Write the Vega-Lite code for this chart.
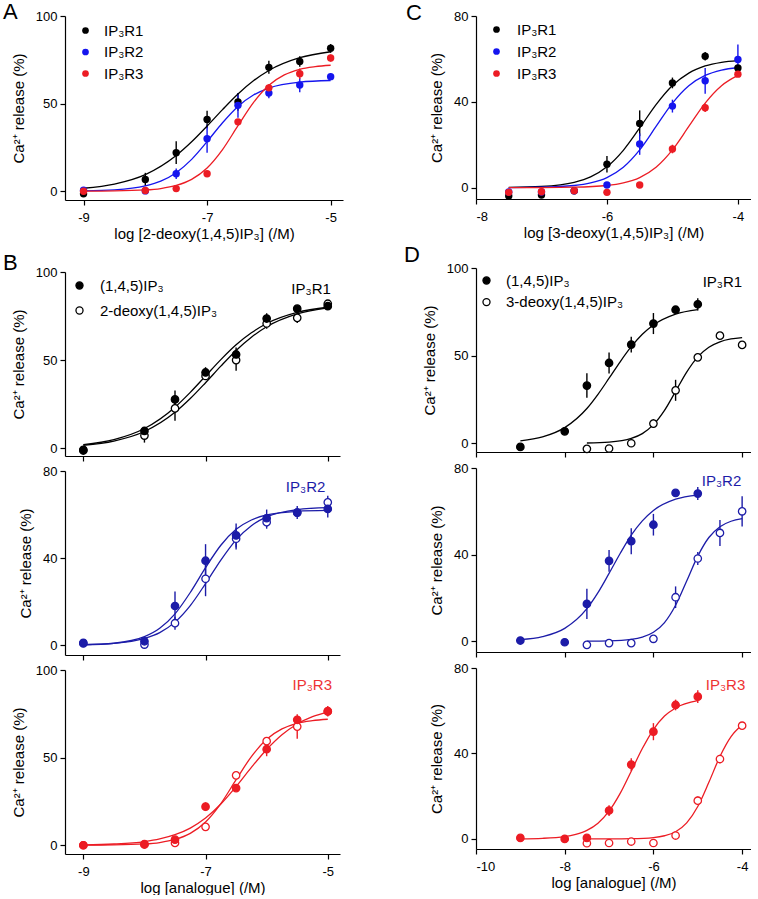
{
"$schema": "https://vega.github.io/schema/vega-lite/v6.json",
"padding": {"left": 3, "top": 1, "right": 0, "bottom": 0},
"background": "white",
"datasets": {
"pts": [
{"p":"A","s":"IP₃R1","x":-9,"y":-1.5,"lo":-1.5,"hi":-1.5},
{"p":"A","s":"IP₃R1","x":-8,"y":6.7,"lo":3,"hi":10.5},
{"p":"A","s":"IP₃R1","x":-7.5,"y":22,"lo":15.5,"hi":28.5},
{"p":"A","s":"IP₃R1","x":-7,"y":41,"lo":36,"hi":46},
{"p":"A","s":"IP₃R1","x":-6.5,"y":51,"lo":46,"hi":56},
{"p":"A","s":"IP₃R1","x":-6,"y":70.7,"lo":67,"hi":74.5},
{"p":"A","s":"IP₃R1","x":-5.5,"y":74,"lo":71,"hi":77},
{"p":"A","s":"IP₃R1","x":-5,"y":81.6,"lo":79,"hi":84},
{"p":"A","s":"IP₃R2","x":-9,"y":0.6,"lo":0.6,"hi":0.6},
{"p":"A","s":"IP₃R2","x":-8,"y":0.2,"lo":0.2,"hi":0.2},
{"p":"A","s":"IP₃R2","x":-7.5,"y":10,"lo":7,"hi":13},
{"p":"A","s":"IP₃R2","x":-7,"y":30,"lo":22,"hi":38},
{"p":"A","s":"IP₃R2","x":-6.5,"y":49,"lo":42,"hi":56},
{"p":"A","s":"IP₃R2","x":-6,"y":56,"lo":53,"hi":59},
{"p":"A","s":"IP₃R2","x":-5.5,"y":60.6,"lo":56.5,"hi":64.5},
{"p":"A","s":"IP₃R2","x":-5,"y":65.4,"lo":63.5,"hi":67.3},
{"p":"A","s":"IP₃R3","x":-9,"y":0,"lo":0,"hi":0},
{"p":"A","s":"IP₃R3","x":-8,"y":0.4,"lo":0.4,"hi":0.4},
{"p":"A","s":"IP₃R3","x":-7.5,"y":1.5,"lo":1.5,"hi":1.5},
{"p":"A","s":"IP₃R3","x":-7,"y":10,"lo":9,"hi":11},
{"p":"A","s":"IP₃R3","x":-6.5,"y":39.6,"lo":38,"hi":41},
{"p":"A","s":"IP₃R3","x":-6,"y":59,"lo":57,"hi":61},
{"p":"A","s":"IP₃R3","x":-5.5,"y":67,"lo":64,"hi":70},
{"p":"A","s":"IP₃R3","x":-5,"y":76,"lo":74,"hi":78},

{"p":"B1","s":"2-deoxy(1,4,5)IP₃","x":-9,"y":-1.3,"lo":-1.3,"hi":-1.3},
{"p":"B1","s":"2-deoxy(1,4,5)IP₃","x":-8,"y":7.2,"lo":3.2,"hi":11.2},
{"p":"B1","s":"2-deoxy(1,4,5)IP₃","x":-7.5,"y":22.6,"lo":15.6,"hi":29.6},
{"p":"B1","s":"2-deoxy(1,4,5)IP₃","x":-7,"y":41,"lo":39,"hi":43},
{"p":"B1","s":"2-deoxy(1,4,5)IP₃","x":-6.5,"y":50,"lo":44,"hi":56},
{"p":"B1","s":"2-deoxy(1,4,5)IP₃","x":-6,"y":70.8,"lo":67.8,"hi":73.8},
{"p":"B1","s":"2-deoxy(1,4,5)IP₃","x":-5.5,"y":74,"lo":71,"hi":77},
{"p":"B1","s":"2-deoxy(1,4,5)IP₃","x":-5,"y":82,"lo":81,"hi":83},
{"p":"B1","s":"(1,4,5)IP₃","x":-9,"y":-0.9,"lo":-0.9,"hi":-0.9},
{"p":"B1","s":"(1,4,5)IP₃","x":-8,"y":9.8,"lo":9.8,"hi":9.8},
{"p":"B1","s":"(1,4,5)IP₃","x":-7.5,"y":27.7,"lo":22.7,"hi":32.7},
{"p":"B1","s":"(1,4,5)IP₃","x":-7,"y":43,"lo":40,"hi":46},
{"p":"B1","s":"(1,4,5)IP₃","x":-6.5,"y":53.2,"lo":49.2,"hi":57.2},
{"p":"B1","s":"(1,4,5)IP₃","x":-6,"y":73.6,"lo":70.6,"hi":76.6},
{"p":"B1","s":"(1,4,5)IP₃","x":-5.5,"y":79.2,"lo":79.2,"hi":79.2},
{"p":"B1","s":"(1,4,5)IP₃","x":-5,"y":80.6,"lo":78.6,"hi":82.6},

{"p":"B2","s":"2-deoxy(1,4,5)IP₃","x":-9,"y":0.8,"lo":0.8,"hi":0.8},
{"p":"B2","s":"2-deoxy(1,4,5)IP₃","x":-8,"y":0.3,"lo":0.3,"hi":0.3},
{"p":"B2","s":"2-deoxy(1,4,5)IP₃","x":-7.5,"y":10.1,"lo":7.1,"hi":13.1},
{"p":"B2","s":"2-deoxy(1,4,5)IP₃","x":-7,"y":30.5,"lo":22.5,"hi":38.5},
{"p":"B2","s":"2-deoxy(1,4,5)IP₃","x":-6.5,"y":48.9,"lo":43.9,"hi":53.9},
{"p":"B2","s":"2-deoxy(1,4,5)IP₃","x":-6,"y":56.5,"lo":53.5,"hi":59.5},
{"p":"B2","s":"2-deoxy(1,4,5)IP₃","x":-5.5,"y":60.9,"lo":58.9,"hi":62.9},
{"p":"B2","s":"2-deoxy(1,4,5)IP₃","x":-5,"y":65.6,"lo":62.6,"hi":68.6},
{"p":"B2","s":"(1,4,5)IP₃","x":-9,"y":1.1,"lo":1.1,"hi":1.1},
{"p":"B2","s":"(1,4,5)IP₃","x":-8,"y":1.8,"lo":1.8,"hi":1.8},
{"p":"B2","s":"(1,4,5)IP₃","x":-7.5,"y":18,"lo":11.3,"hi":24.7},
{"p":"B2","s":"(1,4,5)IP₃","x":-7,"y":38.8,"lo":31.2,"hi":46.4},
{"p":"B2","s":"(1,4,5)IP₃","x":-6.5,"y":50.4,"lo":44.9,"hi":55.9},
{"p":"B2","s":"(1,4,5)IP₃","x":-6,"y":58.3,"lo":54.3,"hi":62.3},
{"p":"B2","s":"(1,4,5)IP₃","x":-5.5,"y":60.9,"lo":57.9,"hi":63.9},
{"p":"B2","s":"(1,4,5)IP₃","x":-5,"y":62.6,"lo":58.6,"hi":66.6},

{"p":"B3","s":"2-deoxy(1,4,5)IP₃","x":-9,"y":0,"lo":0,"hi":0},
{"p":"B3","s":"2-deoxy(1,4,5)IP₃","x":-8,"y":0.4,"lo":0.4,"hi":0.4},
{"p":"B3","s":"2-deoxy(1,4,5)IP₃","x":-7.5,"y":1.3,"lo":1.3,"hi":1.3},
{"p":"B3","s":"2-deoxy(1,4,5)IP₃","x":-7,"y":10.5,"lo":10.5,"hi":10.5},
{"p":"B3","s":"2-deoxy(1,4,5)IP₃","x":-6.5,"y":39.9,"lo":39.9,"hi":39.9},
{"p":"B3","s":"2-deoxy(1,4,5)IP₃","x":-6,"y":59.4,"lo":59.4,"hi":59.4},
{"p":"B3","s":"2-deoxy(1,4,5)IP₃","x":-5.5,"y":67.7,"lo":60.7,"hi":74.7},
{"p":"B3","s":"2-deoxy(1,4,5)IP₃","x":-5,"y":76.3,"lo":76.3,"hi":76.3},
{"p":"B3","s":"(1,4,5)IP₃","x":-9,"y":0,"lo":0,"hi":0},
{"p":"B3","s":"(1,4,5)IP₃","x":-8,"y":0.6,"lo":0.6,"hi":0.6},
{"p":"B3","s":"(1,4,5)IP₃","x":-7.5,"y":3.2,"lo":3.2,"hi":3.2},
{"p":"B3","s":"(1,4,5)IP₃","x":-7,"y":22,"lo":19.5,"hi":24.5},
{"p":"B3","s":"(1,4,5)IP₃","x":-6.5,"y":32.6,"lo":31.6,"hi":33.6},
{"p":"B3","s":"(1,4,5)IP₃","x":-6,"y":54.8,"lo":50.8,"hi":58.8},
{"p":"B3","s":"(1,4,5)IP₃","x":-5.5,"y":71.6,"lo":69.6,"hi":73.6},
{"p":"B3","s":"(1,4,5)IP₃","x":-5,"y":76.5,"lo":73.5,"hi":79.5},

{"p":"C","s":"IP₃R1","x":-7.5,"y":-3.9,"lo":-3.9,"hi":-3.9},
{"p":"C","s":"IP₃R1","x":-7,"y":-3.4,"lo":-3.4,"hi":-3.4},
{"p":"C","s":"IP₃R1","x":-6.5,"y":-1.5,"lo":-1.5,"hi":-1.5},
{"p":"C","s":"IP₃R1","x":-6,"y":10.9,"lo":7,"hi":14.8},
{"p":"C","s":"IP₃R1","x":-5.5,"y":29.9,"lo":24,"hi":36},
{"p":"C","s":"IP₃R1","x":-5,"y":48.8,"lo":46.3,"hi":51.3},
{"p":"C","s":"IP₃R1","x":-4.5,"y":61.2,"lo":59.2,"hi":63.2},
{"p":"C","s":"IP₃R1","x":-4,"y":55.8,"lo":54.8,"hi":56.8},
{"p":"C","s":"IP₃R2","x":-7.5,"y":-2,"lo":-2,"hi":-2},
{"p":"C","s":"IP₃R2","x":-7,"y":-2,"lo":-2,"hi":-2},
{"p":"C","s":"IP₃R2","x":-6.5,"y":-1.5,"lo":-1.5,"hi":-1.5},
{"p":"C","s":"IP₃R2","x":-6,"y":1.2,"lo":1.2,"hi":1.2},
{"p":"C","s":"IP₃R2","x":-5.5,"y":20.3,"lo":15.3,"hi":25.3},
{"p":"C","s":"IP₃R2","x":-5,"y":38,"lo":35,"hi":41},
{"p":"C","s":"IP₃R2","x":-4.5,"y":49.8,"lo":43.8,"hi":55.8},
{"p":"C","s":"IP₃R2","x":-4,"y":59.7,"lo":52.7,"hi":66.7},
{"p":"C","s":"IP₃R3","x":-7.5,"y":-2.2,"lo":-2.2,"hi":-2.2},
{"p":"C","s":"IP₃R3","x":-7,"y":-1.9,"lo":-1.9,"hi":-1.9},
{"p":"C","s":"IP₃R3","x":-6.5,"y":-1.4,"lo":-1.4,"hi":-1.4},
{"p":"C","s":"IP₃R3","x":-6,"y":-2.2,"lo":-2.2,"hi":-2.2},
{"p":"C","s":"IP₃R3","x":-5.5,"y":1.2,"lo":1.2,"hi":1.2},
{"p":"C","s":"IP₃R3","x":-5,"y":18,"lo":16,"hi":20},
{"p":"C","s":"IP₃R3","x":-4.5,"y":37.2,"lo":35.2,"hi":39.2},
{"p":"C","s":"IP₃R3","x":-4,"y":52.9,"lo":51.9,"hi":53.9},

{"p":"D1","s":"3-deoxy(1,4,5)IP₃","x":-7.5,"y":-3.2,"lo":-3.2,"hi":-3.2},
{"p":"D1","s":"3-deoxy(1,4,5)IP₃","x":-7,"y":-3,"lo":-3,"hi":-3},
{"p":"D1","s":"3-deoxy(1,4,5)IP₃","x":-6.5,"y":0,"lo":0,"hi":0},
{"p":"D1","s":"3-deoxy(1,4,5)IP₃","x":-6,"y":11.2,"lo":8.7,"hi":13.7},
{"p":"D1","s":"3-deoxy(1,4,5)IP₃","x":-5.5,"y":30.2,"lo":24.2,"hi":36.2},
{"p":"D1","s":"3-deoxy(1,4,5)IP₃","x":-5,"y":49,"lo":47,"hi":51},
{"p":"D1","s":"3-deoxy(1,4,5)IP₃","x":-4.5,"y":61.4,"lo":60.4,"hi":62.4},
{"p":"D1","s":"3-deoxy(1,4,5)IP₃","x":-4,"y":56.1,"lo":54.1,"hi":58.1},
{"p":"D1","s":"(1,4,5)IP₃","x":-9,"y":-2.1,"lo":-2.1,"hi":-2.1},
{"p":"D1","s":"(1,4,5)IP₃","x":-8,"y":6.8,"lo":6.8,"hi":6.8},
{"p":"D1","s":"(1,4,5)IP₃","x":-7.5,"y":32.9,"lo":25.9,"hi":39.9},
{"p":"D1","s":"(1,4,5)IP₃","x":-7,"y":45.8,"lo":39.8,"hi":51.8},
{"p":"D1","s":"(1,4,5)IP₃","x":-6.5,"y":56.3,"lo":51.8,"hi":60.8},
{"p":"D1","s":"(1,4,5)IP₃","x":-6,"y":68.3,"lo":62.3,"hi":74.3},
{"p":"D1","s":"(1,4,5)IP₃","x":-5.5,"y":76.2,"lo":74.2,"hi":78.2},
{"p":"D1","s":"(1,4,5)IP₃","x":-5,"y":79.3,"lo":75.8,"hi":82.8},

{"p":"D2","s":"3-deoxy(1,4,5)IP₃","x":-7.5,"y":-1.7,"lo":-1.7,"hi":-1.7},
{"p":"D2","s":"3-deoxy(1,4,5)IP₃","x":-7,"y":-0.9,"lo":-0.9,"hi":-0.9},
{"p":"D2","s":"3-deoxy(1,4,5)IP₃","x":-6.5,"y":-0.9,"lo":-0.9,"hi":-0.9},
{"p":"D2","s":"3-deoxy(1,4,5)IP₃","x":-6,"y":1.1,"lo":1.1,"hi":1.1},
{"p":"D2","s":"3-deoxy(1,4,5)IP₃","x":-5.5,"y":20.3,"lo":15.3,"hi":25.3},
{"p":"D2","s":"3-deoxy(1,4,5)IP₃","x":-5,"y":38.2,"lo":35.2,"hi":41.2},
{"p":"D2","s":"3-deoxy(1,4,5)IP₃","x":-4.5,"y":50,"lo":44,"hi":56},
{"p":"D2","s":"3-deoxy(1,4,5)IP₃","x":-4,"y":60,"lo":53,"hi":67},
{"p":"D2","s":"(1,4,5)IP₃","x":-9,"y":0.3,"lo":0.3,"hi":0.3},
{"p":"D2","s":"(1,4,5)IP₃","x":-8,"y":-0.5,"lo":-0.5,"hi":-0.5},
{"p":"D2","s":"(1,4,5)IP₃","x":-7.5,"y":17.2,"lo":10.2,"hi":24.2},
{"p":"D2","s":"(1,4,5)IP₃","x":-7,"y":37.1,"lo":32.1,"hi":42.1},
{"p":"D2","s":"(1,4,5)IP₃","x":-6.5,"y":46.2,"lo":40.2,"hi":52.2},
{"p":"D2","s":"(1,4,5)IP₃","x":-6,"y":53.8,"lo":48.8,"hi":58.8},
{"p":"D2","s":"(1,4,5)IP₃","x":-5.5,"y":68.5,"lo":68.5,"hi":68.5},
{"p":"D2","s":"(1,4,5)IP₃","x":-5,"y":68.2,"lo":65.2,"hi":71.2},

{"p":"D3","s":"3-deoxy(1,4,5)IP₃","x":-7.5,"y":-2,"lo":-2,"hi":-2},
{"p":"D3","s":"3-deoxy(1,4,5)IP₃","x":-7,"y":-1.9,"lo":-1.9,"hi":-1.9},
{"p":"D3","s":"3-deoxy(1,4,5)IP₃","x":-6.5,"y":-1.2,"lo":-1.2,"hi":-1.2},
{"p":"D3","s":"3-deoxy(1,4,5)IP₃","x":-6,"y":-1.9,"lo":-1.9,"hi":-1.9},
{"p":"D3","s":"3-deoxy(1,4,5)IP₃","x":-5.5,"y":1.6,"lo":1.6,"hi":1.6},
{"p":"D3","s":"3-deoxy(1,4,5)IP₃","x":-5,"y":17.9,"lo":15.9,"hi":19.9},
{"p":"D3","s":"3-deoxy(1,4,5)IP₃","x":-4.5,"y":37.4,"lo":35.4,"hi":39.4},
{"p":"D3","s":"3-deoxy(1,4,5)IP₃","x":-4,"y":53,"lo":53,"hi":53},
{"p":"D3","s":"(1,4,5)IP₃","x":-9,"y":0.5,"lo":0.5,"hi":0.5},
{"p":"D3","s":"(1,4,5)IP₃","x":-8,"y":0,"lo":0,"hi":0},
{"p":"D3","s":"(1,4,5)IP₃","x":-7.5,"y":0.5,"lo":0.5,"hi":0.5},
{"p":"D3","s":"(1,4,5)IP₃","x":-7,"y":13.3,"lo":10.8,"hi":15.8},
{"p":"D3","s":"(1,4,5)IP₃","x":-6.5,"y":34.8,"lo":31.8,"hi":37.8},
{"p":"D3","s":"(1,4,5)IP₃","x":-6,"y":50.2,"lo":46.2,"hi":54.2},
{"p":"D3","s":"(1,4,5)IP₃","x":-5.5,"y":62.7,"lo":60.2,"hi":65.2},
{"p":"D3","s":"(1,4,5)IP₃","x":-5,"y":66.6,"lo":63.6,"hi":69.6}
],
"cur": [
{"p":"A","s":"IP₃R1","x":-9,"y":1.7},{"p":"A","s":"IP₃R1","x":-8.5,"y":4.1},{"p":"A","s":"IP₃R1","x":-8,"y":9.5},{"p":"A","s":"IP₃R1","x":-7.5,"y":20.4},{"p":"A","s":"IP₃R1","x":-7.25,"y":28.2},{"p":"A","s":"IP₃R1","x":-7,"y":37.2},{"p":"A","s":"IP₃R1","x":-6.75,"y":46.6},{"p":"A","s":"IP₃R1","x":-6.5,"y":55.5},{"p":"A","s":"IP₃R1","x":-6.25,"y":63.0},{"p":"A","s":"IP₃R1","x":-6,"y":68.9},{"p":"A","s":"IP₃R1","x":-5.5,"y":76.2},{"p":"A","s":"IP₃R1","x":-5,"y":79.6},
{"p":"A","s":"IP₃R2","x":-9,"y":0.2},{"p":"A","s":"IP₃R2","x":-8.5,"y":0.8},{"p":"A","s":"IP₃R2","x":-8,"y":3.1},{"p":"A","s":"IP₃R2","x":-7.75,"y":5.8},{"p":"A","s":"IP₃R2","x":-7.5,"y":10.6},{"p":"A","s":"IP₃R2","x":-7.25,"y":18.2},{"p":"A","s":"IP₃R2","x":-7,"y":28.3},{"p":"A","s":"IP₃R2","x":-6.75,"y":39.1},{"p":"A","s":"IP₃R2","x":-6.5,"y":48.4},{"p":"A","s":"IP₃R2","x":-6.25,"y":54.9},{"p":"A","s":"IP₃R2","x":-6,"y":58.9},{"p":"A","s":"IP₃R2","x":-5.5,"y":62.3},{"p":"A","s":"IP₃R2","x":-5,"y":63.2},
{"p":"A","s":"IP₃R3","x":-9,"y":0.03},{"p":"A","s":"IP₃R3","x":-8.5,"y":0.15},{"p":"A","s":"IP₃R3","x":-8,"y":0.72},{"p":"A","s":"IP₃R3","x":-7.75,"y":1.55},{"p":"A","s":"IP₃R3","x":-7.5,"y":3.3},{"p":"A","s":"IP₃R3","x":-7.25,"y":6.8},{"p":"A","s":"IP₃R3","x":-7,"y":13.3},{"p":"A","s":"IP₃R3","x":-6.75,"y":23.8},{"p":"A","s":"IP₃R3","x":-6.5,"y":37.4},{"p":"A","s":"IP₃R3","x":-6.25,"y":50.6},{"p":"A","s":"IP₃R3","x":-6,"y":60.5},{"p":"A","s":"IP₃R3","x":-5.75,"y":66.4},{"p":"A","s":"IP₃R3","x":-5.5,"y":69.6},{"p":"A","s":"IP₃R3","x":-5.25,"y":71.1},{"p":"A","s":"IP₃R3","x":-5,"y":71.9},

{"p":"B1","s":"o","x":-9,"y":1.7},{"p":"B1","s":"o","x":-8.5,"y":4.1},{"p":"B1","s":"o","x":-8,"y":9.5},{"p":"B1","s":"o","x":-7.5,"y":20.4},{"p":"B1","s":"o","x":-7.25,"y":28.2},{"p":"B1","s":"o","x":-7,"y":37.2},{"p":"B1","s":"o","x":-6.75,"y":46.6},{"p":"B1","s":"o","x":-6.5,"y":55.5},{"p":"B1","s":"o","x":-6.25,"y":63.0},{"p":"B1","s":"o","x":-6,"y":68.9},{"p":"B1","s":"o","x":-5.5,"y":76.2},{"p":"B1","s":"o","x":-5,"y":79.6},
{"p":"B1","s":"f","x":-9,"y":2.0},{"p":"B1","s":"f","x":-8.5,"y":4.9},{"p":"B1","s":"f","x":-8,"y":11.2},{"p":"B1","s":"f","x":-7.5,"y":23.3},{"p":"B1","s":"f","x":-7.25,"y":31.7},{"p":"B1","s":"f","x":-7,"y":41},{"p":"B1","s":"f","x":-6.75,"y":50.3},{"p":"B1","s":"f","x":-6.5,"y":58.7},{"p":"B1","s":"f","x":-6.25,"y":65.5},{"p":"B1","s":"f","x":-6,"y":70.8},{"p":"B1","s":"f","x":-5.5,"y":77.1},{"p":"B1","s":"f","x":-5,"y":80.0},

{"p":"B2","s":"o","x":-9,"y":0.2},{"p":"B2","s":"o","x":-8.5,"y":0.8},{"p":"B2","s":"o","x":-8,"y":3.1},{"p":"B2","s":"o","x":-7.75,"y":5.8},{"p":"B2","s":"o","x":-7.5,"y":10.6},{"p":"B2","s":"o","x":-7.25,"y":18.2},{"p":"B2","s":"o","x":-7,"y":28.3},{"p":"B2","s":"o","x":-6.75,"y":39.1},{"p":"B2","s":"o","x":-6.5,"y":48.4},{"p":"B2","s":"o","x":-6.25,"y":54.9},{"p":"B2","s":"o","x":-6,"y":58.9},{"p":"B2","s":"o","x":-5.5,"y":62.3},{"p":"B2","s":"o","x":-5,"y":63.2},
{"p":"B2","s":"f","x":-9,"y":0.2},{"p":"B2","s":"f","x":-8.5,"y":0.9},{"p":"B2","s":"f","x":-8,"y":3.9},{"p":"B2","s":"f","x":-7.75,"y":7.75},{"p":"B2","s":"f","x":-7.5,"y":14.4},{"p":"B2","s":"f","x":-7.25,"y":24.2},{"p":"B2","s":"f","x":-7,"y":35.6},{"p":"B2","s":"f","x":-6.75,"y":45.9},{"p":"B2","s":"f","x":-6.5,"y":53.2},{"p":"B2","s":"f","x":-6.25,"y":57.5},{"p":"B2","s":"f","x":-6,"y":59.8},{"p":"B2","s":"f","x":-5.5,"y":61.5},{"p":"B2","s":"f","x":-5,"y":61.9},

{"p":"B3","s":"o","x":-9,"y":0.03},{"p":"B3","s":"o","x":-8.5,"y":0.15},{"p":"B3","s":"o","x":-8,"y":0.72},{"p":"B3","s":"o","x":-7.75,"y":1.55},{"p":"B3","s":"o","x":-7.5,"y":3.3},{"p":"B3","s":"o","x":-7.25,"y":6.8},{"p":"B3","s":"o","x":-7,"y":13.3},{"p":"B3","s":"o","x":-6.75,"y":23.8},{"p":"B3","s":"o","x":-6.5,"y":37.4},{"p":"B3","s":"o","x":-6.25,"y":50.6},{"p":"B3","s":"o","x":-6,"y":60.5},{"p":"B3","s":"o","x":-5.75,"y":66.4},{"p":"B3","s":"o","x":-5.5,"y":69.6},{"p":"B3","s":"o","x":-5.25,"y":71.1},{"p":"B3","s":"o","x":-5,"y":71.9},
{"p":"B3","s":"f","x":-9,"y":0.24},{"p":"B3","s":"f","x":-8.5,"y":0.72},{"p":"B3","s":"f","x":-8,"y":2.1},{"p":"B3","s":"f","x":-7.75,"y":3.6},{"p":"B3","s":"f","x":-7.5,"y":6.0},{"p":"B3","s":"f","x":-7.25,"y":9.8},{"p":"B3","s":"f","x":-7,"y":15.5},{"p":"B3","s":"f","x":-6.75,"y":23.5},{"p":"B3","s":"f","x":-6.5,"y":33.5},{"p":"B3","s":"f","x":-6.25,"y":44.4},{"p":"B3","s":"f","x":-6,"y":54.6},{"p":"B3","s":"f","x":-5.75,"y":63.0},{"p":"B3","s":"f","x":-5.5,"y":69.2},{"p":"B3","s":"f","x":-5.25,"y":73.4},{"p":"B3","s":"f","x":-5,"y":76.0},

{"p":"C","s":"IP₃R1","x":-7.5,"y":0.13},{"p":"C","s":"IP₃R1","x":-7,"y":0.57},{"p":"C","s":"IP₃R1","x":-6.5,"y":2.5},{"p":"C","s":"IP₃R1","x":-6.25,"y":5.0},{"p":"C","s":"IP₃R1","x":-6,"y":9.7},{"p":"C","s":"IP₃R1","x":-5.75,"y":17.4},{"p":"C","s":"IP₃R1","x":-5.5,"y":27.8},{"p":"C","s":"IP₃R1","x":-5.25,"y":38.7},{"p":"C","s":"IP₃R1","x":-5,"y":47.6},{"p":"C","s":"IP₃R1","x":-4.75,"y":53.4},{"p":"C","s":"IP₃R1","x":-4.5,"y":56.7},{"p":"C","s":"IP₃R1","x":-4.25,"y":58.4},{"p":"C","s":"IP₃R1","x":-4,"y":59.2},
{"p":"C","s":"IP₃R2","x":-7.5,"y":0.04},{"p":"C","s":"IP₃R2","x":-7,"y":0.2},{"p":"C","s":"IP₃R2","x":-6.5,"y":1.0},{"p":"C","s":"IP₃R2","x":-6.25,"y":2.2},{"p":"C","s":"IP₃R2","x":-6,"y":4.7},{"p":"C","s":"IP₃R2","x":-5.75,"y":9.5},{"p":"C","s":"IP₃R2","x":-5.5,"y":17.6},{"p":"C","s":"IP₃R2","x":-5.25,"y":28.5},{"p":"C","s":"IP₃R2","x":-5,"y":39.4},{"p":"C","s":"IP₃R2","x":-4.75,"y":47.5},{"p":"C","s":"IP₃R2","x":-4.5,"y":52.3},{"p":"C","s":"IP₃R2","x":-4.25,"y":54.8},{"p":"C","s":"IP₃R2","x":-4,"y":56.0},
{"p":"C","s":"IP₃R3","x":-7.5,"y":0.01},{"p":"C","s":"IP₃R3","x":-7,"y":0.04},{"p":"C","s":"IP₃R3","x":-6.5,"y":0.2},{"p":"C","s":"IP₃R3","x":-6,"y":1.0},{"p":"C","s":"IP₃R3","x":-5.75,"y":2.2},{"p":"C","s":"IP₃R3","x":-5.5,"y":4.7},{"p":"C","s":"IP₃R3","x":-5.25,"y":9.5},{"p":"C","s":"IP₃R3","x":-5,"y":17.6},{"p":"C","s":"IP₃R3","x":-4.75,"y":28.5},{"p":"C","s":"IP₃R3","x":-4.5,"y":39.4},{"p":"C","s":"IP₃R3","x":-4.25,"y":47.5},{"p":"C","s":"IP₃R3","x":-4,"y":52.3},

{"p":"D1","s":"f","x":-9,"y":1.4},{"p":"D1","s":"f","x":-8.5,"y":3.6},{"p":"D1","s":"f","x":-8,"y":8.9},{"p":"D1","s":"f","x":-7.5,"y":19.8},{"p":"D1","s":"f","x":-7.25,"y":27.9},{"p":"D1","s":"f","x":-7,"y":37.1},{"p":"D1","s":"f","x":-6.75,"y":46.5},{"p":"D1","s":"f","x":-6.5,"y":55.1},{"p":"D1","s":"f","x":-6.25,"y":62.2},{"p":"D1","s":"f","x":-6,"y":67.5},{"p":"D1","s":"f","x":-5.5,"y":73.7},{"p":"D1","s":"f","x":-5,"y":76.3},
{"p":"D1","s":"o","x":-7.5,"y":0.14},{"p":"D1","s":"o","x":-7,"y":0.64},{"p":"D1","s":"o","x":-6.5,"y":2.75},{"p":"D1","s":"o","x":-6.25,"y":5.5},{"p":"D1","s":"o","x":-6,"y":10.6},{"p":"D1","s":"o","x":-5.75,"y":18.8},{"p":"D1","s":"o","x":-5.5,"y":29.6},{"p":"D1","s":"o","x":-5.25,"y":40.6},{"p":"D1","s":"o","x":-5,"y":49.3},{"p":"D1","s":"o","x":-4.75,"y":54.8},{"p":"D1","s":"o","x":-4.5,"y":57.9},{"p":"D1","s":"o","x":-4.25,"y":59.5},{"p":"D1","s":"o","x":-4,"y":60.3},

{"p":"D2","s":"f","x":-9,"y":0.72},{"p":"D2","s":"f","x":-8.5,"y":2.1},{"p":"D2","s":"f","x":-8,"y":5.9},{"p":"D2","s":"f","x":-7.5,"y":15.0},{"p":"D2","s":"f","x":-7.25,"y":22.4},{"p":"D2","s":"f","x":-7,"y":31.3},{"p":"D2","s":"f","x":-6.75,"y":40.5},{"p":"D2","s":"f","x":-6.5,"y":49.0},{"p":"D2","s":"f","x":-6.25,"y":55.6},{"p":"D2","s":"f","x":-6,"y":60.4},{"p":"D2","s":"f","x":-5.5,"y":65.6},{"p":"D2","s":"f","x":-5,"y":67.5},
{"p":"D2","s":"o","x":-7.5,"y":0.03},{"p":"D2","s":"o","x":-7,"y":0.16},{"p":"D2","s":"o","x":-6.5,"y":0.82},{"p":"D2","s":"o","x":-6.25,"y":1.85},{"p":"D2","s":"o","x":-6,"y":4.1},{"p":"D2","s":"o","x":-5.75,"y":8.6},{"p":"D2","s":"o","x":-5.5,"y":16.6},{"p":"D2","s":"o","x":-5.25,"y":27.8},{"p":"D2","s":"o","x":-5,"y":39.3},{"p":"D2","s":"o","x":-4.75,"y":47.9},{"p":"D2","s":"o","x":-4.5,"y":52.9},{"p":"D2","s":"o","x":-4.25,"y":55.4},{"p":"D2","s":"o","x":-4,"y":56.6},

{"p":"D3","s":"f","x":-9,"y":0.08},{"p":"D3","s":"f","x":-8.5,"y":0.3},{"p":"D3","s":"f","x":-8,"y":1.1},{"p":"D3","s":"f","x":-7.75,"y":2.2},{"p":"D3","s":"f","x":-7.5,"y":4.05},{"p":"D3","s":"f","x":-7.25,"y":7.4},{"p":"D3","s":"f","x":-7,"y":13.0},{"p":"D3","s":"f","x":-6.75,"y":21.3},{"p":"D3","s":"f","x":-6.5,"y":31.7},{"p":"D3","s":"f","x":-6.25,"y":42.3},{"p":"D3","s":"f","x":-6,"y":51.2},{"p":"D3","s":"f","x":-5.75,"y":57.5},{"p":"D3","s":"f","x":-5.5,"y":61.3},{"p":"D3","s":"f","x":-5,"y":64.7},
{"p":"D3","s":"o","x":-7.5,"y":0.0},{"p":"D3","s":"o","x":-7,"y":0.02},{"p":"D3","s":"o","x":-6.5,"y":0.12},{"p":"D3","s":"o","x":-6,"y":0.64},{"p":"D3","s":"o","x":-5.75,"y":1.5},{"p":"D3","s":"o","x":-5.5,"y":3.4},{"p":"D3","s":"o","x":-5.25,"y":7.55},{"p":"D3","s":"o","x":-5,"y":15.2},{"p":"D3","s":"o","x":-4.75,"y":26.5},{"p":"D3","s":"o","x":-4.5,"y":38.6},{"p":"D3","s":"o","x":-4.25,"y":47.9},{"p":"D3","s":"o","x":-4,"y":53.3}
],
"lab": [
{"p":"B1","t":"IP₃R1","x":-4.95,"y":90.5},
{"p":"B2","t":"IP₃R2","x":-5.04,"y":72.8},
{"p":"B3","t":"IP₃R3","x":-4.93,"y":91.2},
{"p":"D1","t":"IP₃R1","x":-4.0,"y":92},
{"p":"D2","t":"IP₃R2","x":-4.02,"y":74.1},
{"p":"D3","t":"IP₃R3","x":-3.93,"y":72.2}
]
},
"hconcat": [
{
"vconcat": [
{
"width": 278, "height": 184,
"title": {"text": "A", "dx": -62, "dy": 18},
"layer": [
{"data": {"name": "pts"}, "transform": [{"filter": "datum.p==='A'"}],
 "mark": {"type": "rule", "strokeWidth": 1.4},
 "encoding": {
  "x": {"field": "x", "type": "quantitative", "scale": {"domain": [-9.3, -4.8], "nice": false, "zero": false}, "axis": {"values": [-9, -7, -5], "labelExpr": "'' + datum.value", "title": "log [2-deoxy(1,4,5)IP₃] (/M)"}},
  "y": {"field": "lo", "type": "quantitative", "scale": {"domain": [-5, 100], "nice": false, "zero": false}, "axis": {"values": [0, 50, 100], "title": "Ca²⁺ release (%)"}},
  "y2": {"field": "hi"},
  "stroke": {"field": "s", "type": "nominal", "scale": {"domain": ["IP₃R3", "IP₃R2", "IP₃R1"], "range": ["#ec1c24", "#1515ee", "#000000"]}, "legend": null}}},
{"data": {"name": "cur"}, "transform": [{"filter": "datum.p==='A'"}],
 "mark": {"type": "line", "interpolate": "monotone", "strokeWidth": 1.3},
 "encoding": {
  "x": {"field": "x", "type": "quantitative", "scale": {"domain": [-9.3, -4.8], "nice": false, "zero": false}, "axis": {"values": [-9, -7, -5], "labelExpr": "'' + datum.value", "title": "log [2-deoxy(1,4,5)IP₃] (/M)"}},
  "y": {"field": "y", "type": "quantitative", "scale": {"domain": [-5, 100], "nice": false, "zero": false}, "axis": {"values": [0, 50, 100], "title": "Ca²⁺ release (%)"}},
  "stroke": {"field": "s", "type": "nominal", "scale": {"domain": ["IP₃R3", "IP₃R2", "IP₃R1"], "range": ["#ec1c24", "#1515ee", "#000000"]}, "legend": null}}},
{"data": {"name": "pts"}, "transform": [{"filter": "datum.p==='A'"}],
 "mark": {"type": "point", "filled": true, "size": 55, "opacity": 1, "shape": "circle", "strokeWidth": 0},
 "encoding": {
  "x": {"field": "x", "type": "quantitative", "scale": {"domain": [-9.3, -4.8], "nice": false, "zero": false}, "axis": {"values": [-9, -7, -5], "labelExpr": "'' + datum.value", "title": "log [2-deoxy(1,4,5)IP₃] (/M)"}},
  "y": {"field": "y", "type": "quantitative", "scale": {"domain": [-5, 100], "nice": false, "zero": false}, "axis": {"values": [0, 50, 100], "title": "Ca²⁺ release (%)"}},
  "fill": {"field": "s", "type": "nominal", "scale": {"domain": ["IP₃R1", "IP₃R2", "IP₃R3"], "range": ["#000000", "#1515ee", "#ec1c24"]},
   "legend": {"orient": "none", "legendX": 13, "legendY": 7, "title": null, "symbolType": "circle", "symbolSize": 45, "symbolStrokeWidth": 0, "labelFontSize": 15, "labelOffset": 11, "rowPadding": 5.5}}}}
]
},
{
"vconcat": [
{
"width": 275, "height": 184,
"title": {"text": "B", "dx": -62, "dy": 13},
"layer": [
{"data": {"name": "pts"}, "transform": [{"filter": "datum.p==='B1'"}],
 "mark": {"type": "rule", "strokeWidth": 1.4, "color": "#000000"},
 "encoding": {
  "x": {"field": "x", "type": "quantitative", "scale": {"domain": [-9.3, -4.8], "nice": false, "zero": false}, "axis": {"values": [-9, -7, -5], "labels": false, "title": null}},
  "y": {"field": "lo", "type": "quantitative", "scale": {"domain": [-4.4, 100], "nice": false, "zero": false}, "axis": {"values": [0, 50, 100], "title": "Ca²⁺ release (%)"}},
  "y2": {"field": "hi"}}},
{"data": {"name": "cur"}, "transform": [{"filter": "datum.p==='B1'"}],
 "mark": {"type": "line", "interpolate": "monotone", "strokeWidth": 1.3, "color": "#000000"},
 "encoding": {
  "x": {"field": "x", "type": "quantitative", "scale": {"domain": [-9.3, -4.8], "nice": false, "zero": false}, "axis": {"values": [-9, -7, -5], "labels": false, "title": null}},
  "y": {"field": "y", "type": "quantitative", "scale": {"domain": [-4.4, 100], "nice": false, "zero": false}, "axis": {"values": [0, 50, 100], "title": "Ca²⁺ release (%)"}},
  "detail": {"field": "s", "type": "nominal"}}},
{"data": {"name": "pts"}, "transform": [{"filter": "datum.p==='B1'"}],
 "mark": {"type": "point", "filled": true, "size": 55, "opacity": 1, "shape": "circle", "stroke": "#000000", "strokeWidth": 1.3},
 "encoding": {
  "x": {"field": "x", "type": "quantitative", "scale": {"domain": [-9.3, -4.8], "nice": false, "zero": false}, "axis": {"values": [-9, -7, -5], "labels": false, "title": null}},
  "y": {"field": "y", "type": "quantitative", "scale": {"domain": [-4.4, 100], "nice": false, "zero": false}, "axis": {"values": [0, 50, 100], "title": "Ca²⁺ release (%)"}},
  "fill": {"field": "s", "type": "nominal", "scale": {"domain": ["(1,4,5)IP₃", "2-deoxy(1,4,5)IP₃"], "range": ["#000000", "#ffffff"]},
   "legend": {"orient": "none", "legendX": 7, "legendY": 6, "title": null, "symbolType": "circle", "symbolSize": 50, "symbolStrokeColor": "#000000", "symbolStrokeWidth": 1.3, "labelFontSize": 15, "labelOffset": 13, "rowPadding": 9}}}},
{"data": {"name": "lab"}, "transform": [{"filter": "datum.p==='B1'"}],
 "mark": {"type": "text", "align": "right", "baseline": "middle", "fontSize": 15, "color": "#000000"},
 "encoding": {
  "x": {"field": "x", "type": "quantitative", "scale": {"domain": [-9.3, -4.8], "nice": false, "zero": false}, "axis": {"values": [-9, -7, -5], "labels": false, "title": null}},
  "y": {"field": "y", "type": "quantitative", "scale": {"domain": [-4.4, 100], "nice": false, "zero": false}, "axis": {"values": [0, 50, 100], "title": "Ca²⁺ release (%)"}},
  "text": {"field": "t"}}}
]
},
{
"width": 275, "height": 184,
"layer": [
{"data": {"name": "pts"}, "transform": [{"filter": "datum.p==='B2'"}],
 "mark": {"type": "rule", "strokeWidth": 1.4, "color": "#1c1ca8"},
 "encoding": {
  "x": {"field": "x", "type": "quantitative", "scale": {"domain": [-9.3, -4.8], "nice": false, "zero": false}, "axis": {"values": [-9, -7, -5], "labels": false, "title": null}},
  "y": {"field": "lo", "type": "quantitative", "scale": {"domain": [-4.5, 80], "nice": false, "zero": false}, "axis": {"values": [0, 40, 80], "title": "Ca²⁺ release (%)"}},
  "y2": {"field": "hi"}}},
{"data": {"name": "cur"}, "transform": [{"filter": "datum.p==='B2'"}],
 "mark": {"type": "line", "interpolate": "monotone", "strokeWidth": 1.3, "color": "#1c1ca8"},
 "encoding": {
  "x": {"field": "x", "type": "quantitative", "scale": {"domain": [-9.3, -4.8], "nice": false, "zero": false}, "axis": {"values": [-9, -7, -5], "labels": false, "title": null}},
  "y": {"field": "y", "type": "quantitative", "scale": {"domain": [-4.5, 80], "nice": false, "zero": false}, "axis": {"values": [0, 40, 80], "title": "Ca²⁺ release (%)"}},
  "detail": {"field": "s", "type": "nominal"}}},
{"data": {"name": "pts"}, "transform": [{"filter": "datum.p==='B2'"}],
 "mark": {"type": "point", "filled": true, "size": 55, "opacity": 1, "shape": "circle", "stroke": "#1c1ca8", "strokeWidth": 1.3},
 "encoding": {
  "x": {"field": "x", "type": "quantitative", "scale": {"domain": [-9.3, -4.8], "nice": false, "zero": false}, "axis": {"values": [-9, -7, -5], "labels": false, "title": null}},
  "y": {"field": "y", "type": "quantitative", "scale": {"domain": [-4.5, 80], "nice": false, "zero": false}, "axis": {"values": [0, 40, 80], "title": "Ca²⁺ release (%)"}},
  "fill": {"field": "s", "type": "nominal", "scale": {"domain": ["(1,4,5)IP₃", "2-deoxy(1,4,5)IP₃"], "range": ["#1c1ca8", "#ffffff"]}, "legend": null}}},
{"data": {"name": "lab"}, "transform": [{"filter": "datum.p==='B2'"}],
 "mark": {"type": "text", "align": "right", "baseline": "middle", "fontSize": 15, "color": "#1c1ca8"},
 "encoding": {
  "x": {"field": "x", "type": "quantitative", "scale": {"domain": [-9.3, -4.8], "nice": false, "zero": false}, "axis": {"values": [-9, -7, -5], "labels": false, "title": null}},
  "y": {"field": "y", "type": "quantitative", "scale": {"domain": [-4.5, 80], "nice": false, "zero": false}, "axis": {"values": [0, 40, 80], "title": "Ca²⁺ release (%)"}},
  "text": {"field": "t"}}}
]
},
{
"width": 275, "height": 184,
"layer": [
{"data": {"name": "pts"}, "transform": [{"filter": "datum.p==='B3'"}],
 "mark": {"type": "rule", "strokeWidth": 1.4, "color": "#ec1c24"},
 "encoding": {
  "x": {"field": "x", "type": "quantitative", "scale": {"domain": [-9.3, -4.8], "nice": false, "zero": false}, "axis": {"values": [-9, -7, -5], "labelExpr": "'' + datum.value", "title": "log [analogue] (/M)"}},
  "y": {"field": "lo", "type": "quantitative", "scale": {"domain": [-5, 100], "nice": false, "zero": false}, "axis": {"values": [0, 50, 100], "title": "Ca²⁺ release (%)"}},
  "y2": {"field": "hi"}}},
{"data": {"name": "cur"}, "transform": [{"filter": "datum.p==='B3'"}],
 "mark": {"type": "line", "interpolate": "monotone", "strokeWidth": 1.3, "color": "#ec1c24"},
 "encoding": {
  "x": {"field": "x", "type": "quantitative", "scale": {"domain": [-9.3, -4.8], "nice": false, "zero": false}, "axis": {"values": [-9, -7, -5], "labelExpr": "'' + datum.value", "title": "log [analogue] (/M)"}},
  "y": {"field": "y", "type": "quantitative", "scale": {"domain": [-5, 100], "nice": false, "zero": false}, "axis": {"values": [0, 50, 100], "title": "Ca²⁺ release (%)"}},
  "detail": {"field": "s", "type": "nominal"}}},
{"data": {"name": "pts"}, "transform": [{"filter": "datum.p==='B3'"}],
 "mark": {"type": "point", "filled": true, "size": 55, "opacity": 1, "shape": "circle", "stroke": "#ec1c24", "strokeWidth": 1.3},
 "encoding": {
  "x": {"field": "x", "type": "quantitative", "scale": {"domain": [-9.3, -4.8], "nice": false, "zero": false}, "axis": {"values": [-9, -7, -5], "labelExpr": "'' + datum.value", "title": "log [analogue] (/M)"}},
  "y": {"field": "y", "type": "quantitative", "scale": {"domain": [-5, 100], "nice": false, "zero": false}, "axis": {"values": [0, 50, 100], "title": "Ca²⁺ release (%)"}},
  "fill": {"field": "s", "type": "nominal", "scale": {"domain": ["(1,4,5)IP₃", "2-deoxy(1,4,5)IP₃"], "range": ["#ec1c24", "#ffffff"]}, "legend": null}}},
{"data": {"name": "lab"}, "transform": [{"filter": "datum.p==='B3'"}],
 "mark": {"type": "text", "align": "right", "baseline": "middle", "fontSize": 15, "color": "#ee3333"},
 "encoding": {
  "x": {"field": "x", "type": "quantitative", "scale": {"domain": [-9.3, -4.8], "nice": false, "zero": false}, "axis": {"values": [-9, -7, -5], "labelExpr": "'' + datum.value", "title": "log [analogue] (/M)"}},
  "y": {"field": "y", "type": "quantitative", "scale": {"domain": [-5, 100], "nice": false, "zero": false}, "axis": {"values": [0, 50, 100], "title": "Ca²⁺ release (%)"}},
  "text": {"field": "t"}}}
]
}
],
"spacing": 15,
"bounds": "flush",
"resolve": {"scale": {"x": "independent", "y": "independent", "fill": "independent", "stroke": "independent"}, "axis": {"x": "independent", "y": "independent"}, "legend": {"fill": "independent", "stroke": "independent"}}
}
],
"spacing": 11,
"resolve": {"scale": {"x": "independent", "y": "independent", "fill": "independent", "stroke": "independent"}, "axis": {"x": "independent", "y": "independent"}, "legend": {"fill": "independent", "stroke": "independent"}}
},
{
"vconcat": [
{
"width": 275, "height": 183,
"title": {"text": "C", "dx": -70, "dy": 19},
"layer": [
{"data": {"name": "pts"}, "transform": [{"filter": "datum.p==='C'"}],
 "mark": {"type": "rule", "strokeWidth": 1.4},
 "encoding": {
  "x": {"field": "x", "type": "quantitative", "scale": {"domain": [-8, -3.8], "nice": false, "zero": false}, "axis": {"values": [-8, -6, -4], "labelExpr": "'' + datum.value", "title": "log [3-deoxy(1,4,5)IP₃] (/M)"}},
  "y": {"field": "lo", "type": "quantitative", "scale": {"domain": [-5.3, 80], "nice": false, "zero": false}, "axis": {"values": [0, 40, 80], "title": "Ca²⁺ release (%)"}},
  "y2": {"field": "hi"},
  "stroke": {"field": "s", "type": "nominal", "scale": {"domain": ["IP₃R3", "IP₃R2", "IP₃R1"], "range": ["#ec1c24", "#1515ee", "#000000"]}, "legend": null}}},
{"data": {"name": "cur"}, "transform": [{"filter": "datum.p==='C'"}],
 "mark": {"type": "line", "interpolate": "monotone", "strokeWidth": 1.3},
 "encoding": {
  "x": {"field": "x", "type": "quantitative", "scale": {"domain": [-8, -3.8], "nice": false, "zero": false}, "axis": {"values": [-8, -6, -4], "labelExpr": "'' + datum.value", "title": "log [3-deoxy(1,4,5)IP₃] (/M)"}},
  "y": {"field": "y", "type": "quantitative", "scale": {"domain": [-5.3, 80], "nice": false, "zero": false}, "axis": {"values": [0, 40, 80], "title": "Ca²⁺ release (%)"}},
  "stroke": {"field": "s", "type": "nominal", "scale": {"domain": ["IP₃R3", "IP₃R2", "IP₃R1"], "range": ["#ec1c24", "#1515ee", "#000000"]}, "legend": null}}},
{"data": {"name": "pts"}, "transform": [{"filter": "datum.p==='C'"}],
 "mark": {"type": "point", "filled": true, "size": 55, "opacity": 1, "shape": "circle", "strokeWidth": 0},
 "encoding": {
  "x": {"field": "x", "type": "quantitative", "scale": {"domain": [-8, -3.8], "nice": false, "zero": false}, "axis": {"values": [-8, -6, -4], "labelExpr": "'' + datum.value", "title": "log [3-deoxy(1,4,5)IP₃] (/M)"}},
  "y": {"field": "y", "type": "quantitative", "scale": {"domain": [-5.3, 80], "nice": false, "zero": false}, "axis": {"values": [0, 40, 80], "title": "Ca²⁺ release (%)"}},
  "fill": {"field": "s", "type": "nominal", "scale": {"domain": ["IP₃R1", "IP₃R2", "IP₃R3"], "range": ["#000000", "#1515ee", "#ec1c24"]},
   "legend": {"orient": "none", "legendX": 13, "legendY": 6, "title": null, "symbolType": "circle", "symbolSize": 45, "symbolStrokeWidth": 0, "labelFontSize": 15, "labelOffset": 13, "rowPadding": 6}}}}
]
},
{
"vconcat": [
{
"width": 275, "height": 184,
"title": {"text": "D", "dx": -72, "dy": 9},
"layer": [
{"data": {"name": "pts"}, "transform": [{"filter": "datum.p==='D1'"}],
 "mark": {"type": "rule", "strokeWidth": 1.4, "color": "#000000"},
 "encoding": {
  "x": {"field": "x", "type": "quantitative", "scale": {"domain": [-10, -3.8], "nice": false, "zero": false}, "axis": {"values": [-10, -8, -6, -4], "labels": false, "title": null}},
  "y": {"field": "lo", "type": "quantitative", "scale": {"domain": [-5, 100], "nice": false, "zero": false}, "axis": {"values": [0, 50, 100], "title": "Ca²⁺ release (%)"}},
  "y2": {"field": "hi"}}},
{"data": {"name": "cur"}, "transform": [{"filter": "datum.p==='D1'"}],
 "mark": {"type": "line", "interpolate": "monotone", "strokeWidth": 1.3, "color": "#000000"},
 "encoding": {
  "x": {"field": "x", "type": "quantitative", "scale": {"domain": [-10, -3.8], "nice": false, "zero": false}, "axis": {"values": [-10, -8, -6, -4], "labels": false, "title": null}},
  "y": {"field": "y", "type": "quantitative", "scale": {"domain": [-5, 100], "nice": false, "zero": false}, "axis": {"values": [0, 50, 100], "title": "Ca²⁺ release (%)"}},
  "detail": {"field": "s", "type": "nominal"}}},
{"data": {"name": "pts"}, "transform": [{"filter": "datum.p==='D1'"}],
 "mark": {"type": "point", "filled": true, "size": 55, "opacity": 1, "shape": "circle", "stroke": "#000000", "strokeWidth": 1.3},
 "encoding": {
  "x": {"field": "x", "type": "quantitative", "scale": {"domain": [-10, -3.8], "nice": false, "zero": false}, "axis": {"values": [-10, -8, -6, -4], "labels": false, "title": null}},
  "y": {"field": "y", "type": "quantitative", "scale": {"domain": [-5, 100], "nice": false, "zero": false}, "axis": {"values": [0, 50, 100], "title": "Ca²⁺ release (%)"}},
  "fill": {"field": "s", "type": "nominal", "scale": {"domain": ["(1,4,5)IP₃", "3-deoxy(1,4,5)IP₃"], "range": ["#000000", "#ffffff"]},
   "legend": {"orient": "none", "legendX": 3, "legendY": 5, "title": null, "symbolType": "circle", "symbolSize": 50, "symbolStrokeColor": "#000000", "symbolStrokeWidth": 1.3, "labelFontSize": 15, "labelOffset": 12, "rowPadding": 5.6}}}},
{"data": {"name": "lab"}, "transform": [{"filter": "datum.p==='D1'"}],
 "mark": {"type": "text", "align": "right", "baseline": "middle", "fontSize": 15, "color": "#000000"},
 "encoding": {
  "x": {"field": "x", "type": "quantitative", "scale": {"domain": [-10, -3.8], "nice": false, "zero": false}, "axis": {"values": [-10, -8, -6, -4], "labels": false, "title": null}},
  "y": {"field": "y", "type": "quantitative", "scale": {"domain": [-5, 100], "nice": false, "zero": false}, "axis": {"values": [0, 50, 100], "title": "Ca²⁺ release (%)"}},
  "text": {"field": "t"}}}
]
},
{
"width": 275, "height": 184,
"layer": [
{"data": {"name": "pts"}, "transform": [{"filter": "datum.p==='D2'"}],
 "mark": {"type": "rule", "strokeWidth": 1.4, "color": "#1c1ca8"},
 "encoding": {
  "x": {"field": "x", "type": "quantitative", "scale": {"domain": [-10, -3.8], "nice": false, "zero": false}, "axis": {"values": [-10, -8, -6, -4], "labels": false, "title": null}},
  "y": {"field": "lo", "type": "quantitative", "scale": {"domain": [-5, 80], "nice": false, "zero": false}, "axis": {"values": [0, 40, 80], "title": "Ca²⁺ release (%)"}},
  "y2": {"field": "hi"}}},
{"data": {"name": "cur"}, "transform": [{"filter": "datum.p==='D2'"}],
 "mark": {"type": "line", "interpolate": "monotone", "strokeWidth": 1.3, "color": "#1c1ca8"},
 "encoding": {
  "x": {"field": "x", "type": "quantitative", "scale": {"domain": [-10, -3.8], "nice": false, "zero": false}, "axis": {"values": [-10, -8, -6, -4], "labels": false, "title": null}},
  "y": {"field": "y", "type": "quantitative", "scale": {"domain": [-5, 80], "nice": false, "zero": false}, "axis": {"values": [0, 40, 80], "title": "Ca²⁺ release (%)"}},
  "detail": {"field": "s", "type": "nominal"}}},
{"data": {"name": "pts"}, "transform": [{"filter": "datum.p==='D2'"}],
 "mark": {"type": "point", "filled": true, "size": 55, "opacity": 1, "shape": "circle", "stroke": "#1c1ca8", "strokeWidth": 1.3},
 "encoding": {
  "x": {"field": "x", "type": "quantitative", "scale": {"domain": [-10, -3.8], "nice": false, "zero": false}, "axis": {"values": [-10, -8, -6, -4], "labels": false, "title": null}},
  "y": {"field": "y", "type": "quantitative", "scale": {"domain": [-5, 80], "nice": false, "zero": false}, "axis": {"values": [0, 40, 80], "title": "Ca²⁺ release (%)"}},
  "fill": {"field": "s", "type": "nominal", "scale": {"domain": ["(1,4,5)IP₃", "3-deoxy(1,4,5)IP₃"], "range": ["#1c1ca8", "#ffffff"]}, "legend": null}}},
{"data": {"name": "lab"}, "transform": [{"filter": "datum.p==='D2'"}],
 "mark": {"type": "text", "align": "right", "baseline": "middle", "fontSize": 15, "color": "#1c1ca8"},
 "encoding": {
  "x": {"field": "x", "type": "quantitative", "scale": {"domain": [-10, -3.8], "nice": false, "zero": false}, "axis": {"values": [-10, -8, -6, -4], "labels": false, "title": null}},
  "y": {"field": "y", "type": "quantitative", "scale": {"domain": [-5, 80], "nice": false, "zero": false}, "axis": {"values": [0, 40, 80], "title": "Ca²⁺ release (%)"}},
  "text": {"field": "t"}}}
]
},
{
"width": 275, "height": 181,
"layer": [
{"data": {"name": "pts"}, "transform": [{"filter": "datum.p==='D3'"}],
 "mark": {"type": "rule", "strokeWidth": 1.4, "color": "#ec1c24"},
 "encoding": {
  "x": {"field": "x", "type": "quantitative", "scale": {"domain": [-10, -3.8], "nice": false, "zero": false}, "axis": {"values": [-10, -8, -6, -4], "labelExpr": "'' + datum.value", "title": "log [analogue] (/M)"}},
  "y": {"field": "lo", "type": "quantitative", "scale": {"domain": [-4.7, 80], "nice": false, "zero": false}, "axis": {"values": [0, 40, 80], "title": "Ca²⁺ release (%)"}},
  "y2": {"field": "hi"}}},
{"data": {"name": "cur"}, "transform": [{"filter": "datum.p==='D3'"}],
 "mark": {"type": "line", "interpolate": "monotone", "strokeWidth": 1.3, "color": "#ec1c24"},
 "encoding": {
  "x": {"field": "x", "type": "quantitative", "scale": {"domain": [-10, -3.8], "nice": false, "zero": false}, "axis": {"values": [-10, -8, -6, -4], "labelExpr": "'' + datum.value", "title": "log [analogue] (/M)"}},
  "y": {"field": "y", "type": "quantitative", "scale": {"domain": [-4.7, 80], "nice": false, "zero": false}, "axis": {"values": [0, 40, 80], "title": "Ca²⁺ release (%)"}},
  "detail": {"field": "s", "type": "nominal"}}},
{"data": {"name": "pts"}, "transform": [{"filter": "datum.p==='D3'"}],
 "mark": {"type": "point", "filled": true, "size": 55, "opacity": 1, "shape": "circle", "stroke": "#ec1c24", "strokeWidth": 1.3},
 "encoding": {
  "x": {"field": "x", "type": "quantitative", "scale": {"domain": [-10, -3.8], "nice": false, "zero": false}, "axis": {"values": [-10, -8, -6, -4], "labelExpr": "'' + datum.value", "title": "log [analogue] (/M)"}},
  "y": {"field": "y", "type": "quantitative", "scale": {"domain": [-4.7, 80], "nice": false, "zero": false}, "axis": {"values": [0, 40, 80], "title": "Ca²⁺ release (%)"}},
  "fill": {"field": "s", "type": "nominal", "scale": {"domain": ["(1,4,5)IP₃", "3-deoxy(1,4,5)IP₃"], "range": ["#ec1c24", "#ffffff"]}, "legend": null}}},
{"data": {"name": "lab"}, "transform": [{"filter": "datum.p==='D3'"}],
 "mark": {"type": "text", "align": "right", "baseline": "middle", "fontSize": 15, "color": "#ee3333"},
 "encoding": {
  "x": {"field": "x", "type": "quantitative", "scale": {"domain": [-10, -3.8], "nice": false, "zero": false}, "axis": {"values": [-10, -8, -6, -4], "labelExpr": "'' + datum.value", "title": "log [analogue] (/M)"}},
  "y": {"field": "y", "type": "quantitative", "scale": {"domain": [-4.7, 80], "nice": false, "zero": false}, "axis": {"values": [0, 40, 80], "title": "Ca²⁺ release (%)"}},
  "text": {"field": "t"}}}
]
}
],
"spacing": 16,
"bounds": "flush",
"resolve": {"scale": {"x": "independent", "y": "independent", "fill": "independent", "stroke": "independent"}, "axis": {"x": "independent", "y": "independent"}, "legend": {"fill": "independent", "stroke": "independent"}}
}
],
"spacing": 4,
"resolve": {"scale": {"x": "independent", "y": "independent", "fill": "independent", "stroke": "independent"}, "axis": {"x": "independent", "y": "independent"}, "legend": {"fill": "independent", "stroke": "independent"}}
}
],
"spacing": 61,
"resolve": {"scale": {"x": "independent", "y": "independent", "fill": "independent", "stroke": "independent"}, "axis": {"x": "independent", "y": "independent"}, "legend": {"fill": "independent", "stroke": "independent"}},
"config": {
 "view": {"stroke": null},
 "font": "Liberation Sans",
 "axis": {"grid": false, "domainColor": "#000000", "domainWidth": 1.2, "tickColor": "#000000", "tickWidth": 1.2, "tickSize": 5, "labelColor": "#000000", "labelFontSize": 13, "labelFont": "Liberation Sans", "titleFont": "Liberation Sans", "titleFontSize": 15, "titleFontWeight": "normal", "titleColor": "#000000", "labelPadding": 3},
 "axisX": {"titlePadding": 2, "labelPadding": 6},
 "axisY": {"titlePadding": 9},
 "legend": {"labelFont": "Liberation Sans", "labelColor": "#000000", "labelFontSize": 15, "padding": 0},
 "title": {"font": "Liberation Sans", "fontSize": 22, "fontWeight": "normal", "anchor": "start", "frame": "group", "offset": 0, "baseline": "alphabetic", "color": "#000000"},
 "text": {"font": "Liberation Sans"}
}
}
